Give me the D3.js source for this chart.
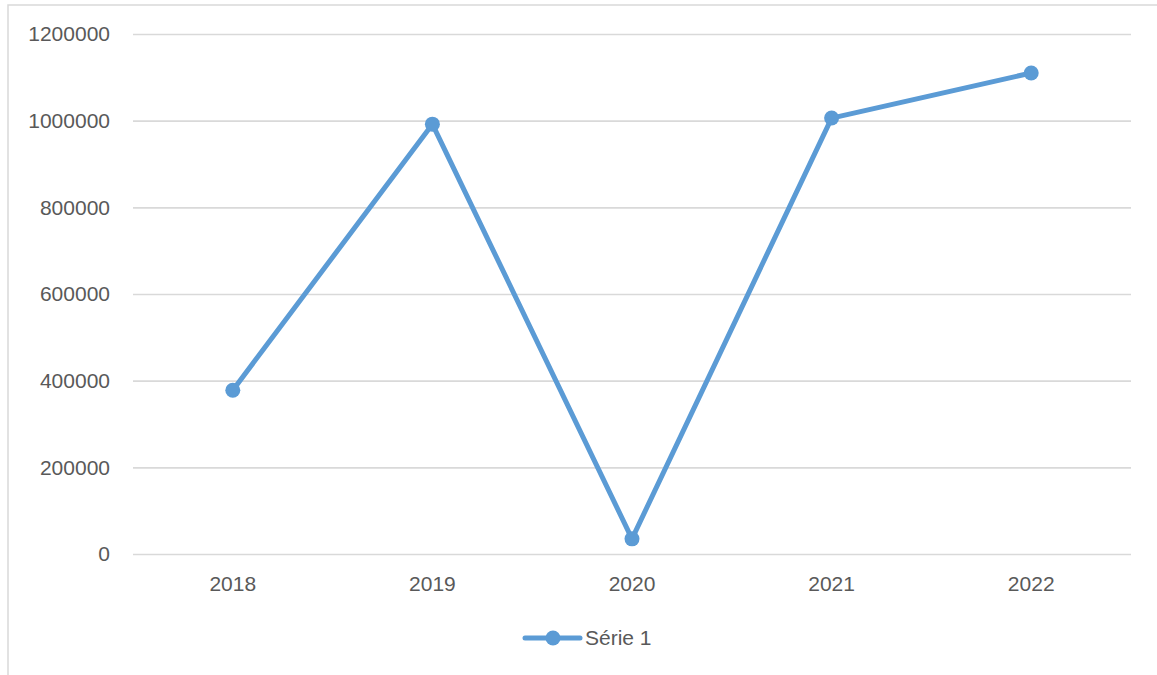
<!DOCTYPE html>
<html>
<head>
<meta charset="utf-8">
<script src="https://cdn.jsdelivr.net/npm/d3@7"></script>
<style>
  html, body { margin: 0; padding: 0; background: #fff; }
  svg { display: block; }
</style>
</head>
<body>
<svg id="chart" width="1157" height="675"></svg>
<script>
// Annual values of the single series
const categories = ["2018", "2019", "2020", "2021", "2022"];
const serie1 = [378000, 992000, 35000, 1006000, 1110000];
const yTicks = [0, 200000, 400000, 600000, 800000, 1000000, 1200000];
const seriesName = "Série 1";

const W = 1157, H = 675;
const margin = { left: 133, right: 26, top: 34, bottom: 121 };
const color = "#5B9BD5";
const textColor = "#595959";
const gridColor = "#d9d9d9";
const font = "'Liberation Sans', Arial, sans-serif";
const fontSize = "21px";

const svg = d3.select("#chart");

// Outer chart frame
svg.append("rect")
  .attr("x", 8).attr("y", 5)
  .attr("width", W + 10).attr("height", H + 10)
  .attr("fill", "none")
  .attr("stroke", gridColor)
  .attr("stroke-width", 1.5);

const x = d3.scaleBand()
  .domain(categories)
  .range([margin.left, W - margin.right]);

const y = d3.scaleLinear()
  .domain([0, 1200000])
  .range([H - margin.bottom, margin.top]);

// Horizontal gridlines with value labels
const yAxis = d3.axisLeft(y)
  .tickValues(yTicks)
  .tickSize(-(W - margin.left - margin.right))
  .tickPadding(23)
  .tickFormat(d3.format("d"));

const gy = svg.append("g")
  .attr("transform", `translate(${margin.left},0)`)
  .call(yAxis);
gy.select(".domain").remove();
gy.selectAll(".tick line")
  .attr("stroke", gridColor)
  .attr("stroke-width", 1.6);
gy.selectAll(".tick text")
  .attr("fill", textColor)
  .style("font-family", font)
  .style("font-size", fontSize);

// Category labels
const xAxis = d3.axisBottom(x).tickSize(0).tickPadding(22);
const gx = svg.append("g")
  .attr("transform", `translate(0,${H - margin.bottom})`)
  .call(xAxis);
gx.select(".domain").remove();
gx.selectAll(".tick text")
  .attr("fill", textColor)
  .style("font-family", font)
  .style("font-size", fontSize);

const cx = d => x(d) + x.bandwidth() / 2;
const points = categories.map((c, i) => ({ c, v: serie1[i] }));

// Series line
svg.append("path")
  .datum(points)
  .attr("fill", "none")
  .attr("stroke", color)
  .attr("stroke-width", 5)
  .attr("stroke-linejoin", "round")
  .attr("d", d3.line().x(d => cx(d.c)).y(d => y(d.v)));

// Markers
svg.append("g")
  .selectAll("circle")
  .data(points)
  .join("circle")
  .attr("cx", d => cx(d.c))
  .attr("cy", d => y(d.v))
  .attr("r", 7.5)
  .attr("fill", color);

// Legend
const legend = svg.append("g").attr("transform", "translate(525,638)");
legend.append("line")
  .attr("x1", 0).attr("x2", 55)
  .attr("y1", 0).attr("y2", 0)
  .attr("stroke", color)
  .attr("stroke-width", 5)
  .attr("stroke-linecap", "round");
legend.append("circle")
  .attr("cx", 28).attr("cy", 0).attr("r", 7.5)
  .attr("fill", color);
legend.append("text")
  .attr("x", 60).attr("y", 0)
  .attr("dy", "0.35em")
  .attr("fill", textColor)
  .style("font-family", font)
  .style("font-size", fontSize)
  .text(seriesName);
</script>
</body>
</html>
